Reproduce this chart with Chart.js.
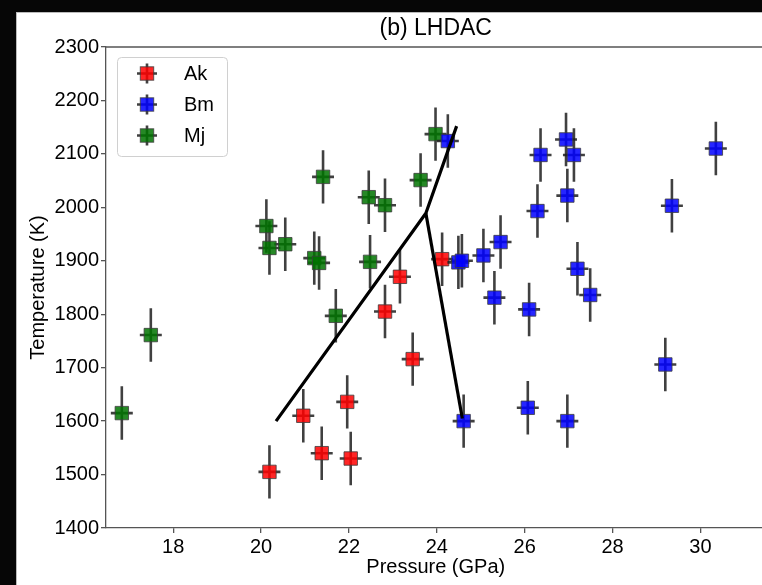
<!DOCTYPE html>
<html>
<head>
<meta charset="utf-8">
<script src="https://cdn.jsdelivr.net/npm/chart.js@4.4.1/dist/chart.umd.min.js"></script>
<style>
  html, body { margin: 0; padding: 0; background: #060606; overflow: hidden; }
  #wrap { position: absolute; left: 0; top: 0; width: 776px; height: 585px; }
</style>
</head>
<body>
<div id="wrap"><canvas id="c"></canvas></div>
<script>
// ---- data ----
const akP = [20.19, 20.96, 21.38, 21.96, 22.04, 22.82, 23.16, 23.45, 24.12];
const akT = [1505, 1610, 1540, 1636, 1530, 1805, 1870, 1716, 1903];

const bmP = [24.25, 24.49, 24.57, 25.06, 25.45, 25.31, 26.10, 26.36, 26.29, 26.94,
             27.12, 26.97, 27.20, 27.49, 29.35, 30.35, 29.20, 24.61, 26.07, 26.97];
const bmT = [2124, 1897, 1900, 1910, 1935, 1831, 1809, 2098, 1993, 2127,
             2098, 2022, 1885, 1836, 2003, 2110, 1706, 1600, 1625, 1600];

const mjP = [16.83, 17.49, 20.12, 20.19, 20.55, 21.21, 21.32, 21.41, 21.70, 22.45,
             22.82, 22.48, 23.63, 23.97];
const mjT = [1615, 1761, 1965, 1924, 1931, 1905, 1896, 2057, 1797, 2019,
             2004, 1898, 2051, 2137];

const errP = 0.25;   // GPa
const errT = 50;     // K

// phase boundary lines
const line1P = [20.34, 23.75, 24.45];
const line1T = [1600, 1989, 2152];
const line2P = [23.75, 24.58];
const line2T = [1989, 1605];

const xTicks = [18, 20, 22, 24, 26, 28, 30];
const yTicks = [1400, 1500, 1600, 1700, 1800, 1900, 2000, 2100, 2200, 2300];

const seriesNames = ['Ak', 'Bm', 'Mj'];
const seriesColors = ['rgba(255,0,0,0.85)', 'rgba(0,0,255,0.85)', 'rgba(0,115,0,0.85)'];

const FONT = "'Liberation Sans', Arial, sans-serif";

function pts(P, T) { return P.map((p, i) => ({ x: p, y: T[i] })); }

const errorBars = {
  id: 'errorBars',
  beforeDatasetDraw(chart, args) {
    const ds = chart.data.datasets[args.index];
    if (!ds.errBars) return;
    const { ctx, chartArea: a } = chart;
    const xs = chart.scales.x, ys = chart.scales.y;
    ctx.save();
    ctx.beginPath();
    ctx.rect(a.left, a.top, a.right - a.left, a.bottom - a.top);
    ctx.clip();
    ctx.strokeStyle = 'rgba(30,30,30,0.85)';
    ctx.lineWidth = 2.6;
    ds.data.forEach(d => {
      const x = xs.getPixelForValue(d.x), y = ys.getPixelForValue(d.y);
      ctx.beginPath();
      ctx.moveTo(x, ys.getPixelForValue(d.y - errT));
      ctx.lineTo(x, ys.getPixelForValue(d.y + errT));
      ctx.moveTo(xs.getPixelForValue(d.x - errP), y);
      ctx.lineTo(xs.getPixelForValue(d.x + errP), y);
      ctx.stroke();
    });
    ctx.restore();
  }
};

const frame = {
  id: 'frame',
  beforeDraw(chart) {
    const { ctx, width, height } = chart;
    ctx.save();
    ctx.fillStyle = '#060606';
    ctx.fillRect(0, 0, width, height);
    ctx.fillStyle = '#ffffff';
    ctx.fillRect(16, 12, width - 16, height - 12);
    ctx.strokeStyle = '#bbbbbb';
    ctx.lineWidth = 1;
    ctx.strokeRect(16.5, 12.5, width, height);
    ctx.restore();
  },
  afterDatasetsDraw(chart) {
    const { ctx, chartArea: a } = chart;
    ctx.save();
    ctx.strokeStyle = '#555555';
    ctx.lineWidth = 1.3;
    ctx.beginPath();
    ctx.moveTo(a.left, a.top);
    ctx.lineTo(a.right, a.top);
    ctx.lineTo(a.right, a.bottom);
    ctx.stroke();
    ctx.restore();
  },
  afterDraw(chart) {
    const { ctx } = chart;
    // legend box
    ctx.save();
    const bx = 117, by = 57, bw = 110, bh = 99, r = 4;
    ctx.fillStyle = 'rgba(255,255,255,0.85)';
    ctx.strokeStyle = '#d0d0d0';
    ctx.lineWidth = 1;
    ctx.beginPath();
    ctx.roundRect(bx + 0.5, by + 0.5, bw, bh, r);
    ctx.fill();
    ctx.stroke();
    const rows = [73.5, 104.5, 135.5];
    ctx.font = '20px ' + FONT;
    ctx.textBaseline = 'middle';
    ctx.textAlign = 'left';
    rows.forEach((ry, i) => {
      const mx = 147;
      ctx.strokeStyle = 'rgba(30,30,30,0.85)';
      ctx.lineWidth = 2.6;
      ctx.beginPath();
      ctx.moveTo(mx, ry - 10); ctx.lineTo(mx, ry + 10);
      ctx.moveTo(mx - 10, ry); ctx.lineTo(mx + 10, ry);
      ctx.stroke();
      ctx.fillStyle = seriesColors[i];
      ctx.fillRect(mx - 6.7, ry - 6.7, 13.4, 13.4);
      ctx.strokeStyle = 'rgba(60,60,60,0.8)';
      ctx.lineWidth = 1;
      ctx.strokeRect(mx - 6.7, ry - 6.7, 13.4, 13.4);
      ctx.fillStyle = '#000';
      ctx.fillText(seriesNames[i], 184, ry + 1);
    });
    ctx.restore();
  }
};

const pointCommon = {
  pointStyle: 'rect',
  pointRadius: 9.5,
  pointBorderWidth: 1,
  pointBorderColor: 'rgba(60,60,60,0.8)',
  showLine: false,
  errBars: true
};

new Chart(document.getElementById('c'), {
  type: 'scatter',
  data: {
    datasets: [
      { label: 'boundary1', data: pts(line1P, line1T), showLine: true, borderColor: '#000', borderWidth: 3.2,
        pointRadius: 0, order: 0, fill: false },
      { label: 'boundary2', data: pts(line2P, line2T), showLine: true, borderColor: '#000', borderWidth: 3.2,
        pointRadius: 0, order: 0, fill: false },
      Object.assign({ label: 'Bm', data: pts(bmP, bmT), backgroundColor: seriesColors[1], order: 1 }, pointCommon),
      Object.assign({ label: 'Ak', data: pts(akP, akT), backgroundColor: seriesColors[0], order: 2 }, pointCommon),
      Object.assign({ label: 'Mj', data: pts(mjP, mjT), backgroundColor: seriesColors[2], order: 3 }, pointCommon)
    ]
  },
  options: {
    responsive: true,
    maintainAspectRatio: false,
    animation: false,
    events: [],
    layout: { padding: { left: 0, right: 8, top: 0, bottom: 0 } },
    plugins: {
      legend: { display: false },
      tooltip: { enabled: false },
      title: {
        display: true,
        text: '(b) LHDAC',
        color: '#000',
        fullSize: false,
        font: { family: FONT, size: 23, weight: 'normal', lineHeight: 1.2 },
        padding: { top: 15.2, bottom: 4.2 }
      }
    },
    scales: {
      x: {
        type: 'linear',
        min: 16.47,
        max: 31.48,
        afterFit(s) { s.height = 57; },
        afterBuildTicks(s) { s.ticks = xTicks.map(v => ({ value: v })); },
        ticks: { color: '#000', font: { family: FONT, size: 20 }, padding: 2, maxRotation: 0,
                 callback: v => String(v) },
        grid: { drawOnChartArea: false, drawTicks: true, tickLength: 5, color: '#555', lineWidth: 1.3 },
        border: { display: true, color: '#555', width: 1.3 },
        title: { display: true, text: 'Pressure (GPa)', color: '#000',
                 font: { family: FONT, size: 20, lineHeight: 1.2 }, padding: { top: 0, bottom: 6 } }
      },
      y: {
        type: 'linear',
        min: 1400,
        max: 2300,
        afterFit(s) { s.width = 106; },
        afterBuildTicks(s) { s.ticks = yTicks.map(v => ({ value: v })); },
        ticks: { color: '#000', font: { family: FONT, size: 20 }, padding: 2,
                 callback: v => String(v) },
        grid: { drawOnChartArea: false, drawTicks: true, tickLength: 5, color: '#555', lineWidth: 1.3 },
        border: { display: true, color: '#555', width: 1.3 },
        title: { display: true, text: 'Temperature (K)', color: '#000',
                 font: { family: FONT, size: 20, lineHeight: 1.2 }, padding: { top: 26, bottom: 0 } }
      }
    }
  },
  plugins: [frame, errorBars]
});
</script>
</body>
</html>
